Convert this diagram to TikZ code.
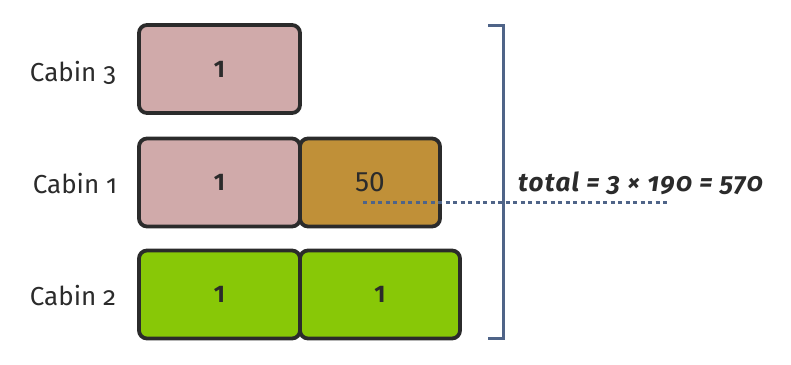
\documentclass[tikz,border=0pt]{standalone}
\usepackage{fontspec}
\setmainfont{Fira Sans}[Numbers=OldStyle]
\newfontfamily\numfont{Fira Sans}[Numbers=Lining]
\begin{document}
\begin{tikzpicture}[x=1pt,y=-1pt,
  cell/.style={draw=boxline,line width=3.8pt,rounded corners=8pt,minimum height=88pt,inner sep=0pt,font=\numfont\fontsize{24}{26}\selectfont\bfseries,text=boxline},
  lbl/.style={font=\fontsize{26}{30}\selectfont\light,text=boxline,anchor=center},
  bracket/.style={draw=brk,line width=3pt}]
\definecolor{boxline}{HTML}{2B2B2B}
\definecolor{pinkc}{HTML}{D0AAAA}
\definecolor{goldc}{HTML}{C09038}
\definecolor{greenc}{HTML}{88C807}
\definecolor{brk}{HTML}{4F6488}
\providecommand\light{\fontseries{l}\selectfont}
\useasboundingbox (0,0) rectangle (791,364);
\node[lbl] (l3) at (73,73) {Cabin 3};
\node[lbl] (l1) at (75,184) {Cabin 1};
\node[lbl] (l2) at (73,296) {Cabin 2};
\node[cell,fill=pinkc,minimum width=161pt] (a3) at (219.5,69) {1};
\node[cell,fill=pinkc,minimum width=161pt] (a1) at (219.5,182.5) {1};
\node[cell,fill=goldc,minimum width=140pt,minimum height=88pt,font=\numfont\fontsize{28}{30}\selectfont] (b1) at (370,182.5) {\raisebox{-3pt}{50}};
\node[cell,fill=greenc,minimum width=161pt] (a2) at (219.5,294.5) {1};
\node[cell,fill=greenc,minimum width=160pt] (b2) at (380,294.5) {1};
\coordinate (dl) at (363,202);
\coordinate (dr) at (668,202);
\draw[draw=brk,line width=3pt,dash pattern=on 4pt off 3.5pt] (dl) -- (dr);
\coordinate (bt) at (488,25);
\coordinate (bb) at (488,338);
\draw[bracket] (bt) -- ++(15,0) |- (bb);
\node[font=\fontsize{26}{28}\selectfont\itshape\fontseries{sb}\selectfont\addfontfeatures{LetterSpace=5},text=boxline,anchor=west,inner sep=0pt] (tot) at (518,183) {total = 3 × 190 = 570};
\end{tikzpicture}
\end{document}
